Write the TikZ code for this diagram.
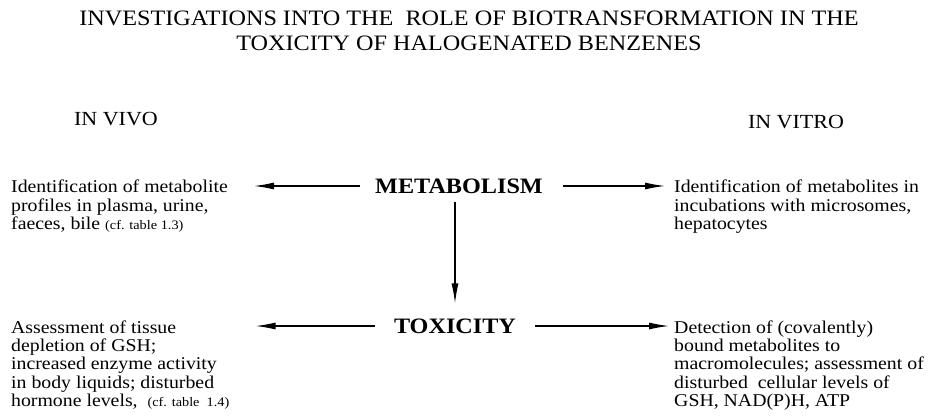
\documentclass[tikz,border=0pt]{standalone}
\usepackage{fontspec}
\setmainfont[FakeStretch=1.1]{Liberation Serif}
\usepackage{tikz}
\usetikzlibrary{arrows.meta, positioning, calc}
\newcommand{\cfsmall}{\fontsize{13}{13}\selectfont}
\tikzset{
  ttl/.style={align=center, inner sep=0pt, font=\rmfamily\fontsize{22}{25}\selectfont},
  hdr/.style={inner sep=0pt, font=\fontsize{20}{22}\selectfont},
  key/.style={inner sep=0pt, font=\fontsize{22}{24}\selectfont\bfseries},
  txt/.style={anchor=north west, align=left, inner sep=0pt,
              font=\fontsize{18}{18.3}\selectfont},
  arr/.style={-{Latex[length=20pt,width=7pt]}, line width=1.2pt}
}

\begin{document}
\begin{tikzpicture}[x=1pt,y=-1pt]
  \useasboundingbox (0,0) rectangle (938,418);
  \node[ttl] (title) at (469,31)
    {INVESTIGATIONS INTO THE\ \ ROLE OF BIOTRANSFORMATION IN THE\\
     TOXICITY OF HALOGENATED BENZENES};
  \node[hdr] (vivo)  at (116,119) {IN VIVO};
  \node[hdr] (vitro) at (796,122) {IN VITRO};
  % centre column
  \node[key] (met) at (459,186) {METABOLISM};
  \node[key] (tox) at (455,326) {TOXICITY};
  % side texts
  \node[txt] (vivoM) at (11,180)
    {Identification of metabolite\\profiles in plasma, urine,\\
     faeces, bile {\cfsmall(cf. table 1.3)}};
  \node[txt] (vitroM) at (674,180)
    {Identification of metabolites in\\incubations with microsomes,\\hepatocytes};
  \node[txt] (vivoT) at (11,320.5)
    {Assessment of tissue\\depletion of GSH;\\increased enzyme activity\\
     in body liquids; disturbed\\hormone levels,\ \ {\cfsmall(cf. table\ \ 1.4)}};
  \node[txt] (vitroT) at (674,320.5)
    {Detection of (covalently)\\bound metabolites to\\
     macromolecules; assessment of\\disturbed\ \ cellular levels of\\
     GSH, NAD(P)H, ATP};
  % arrows
  \draw[arr, shorten <=15pt, shorten >=26pt] (met.west) -- (met.west -| vivoM.east);
  \draw[arr, shorten <=20pt, shorten >=9pt]  (met.east) -- (met.east -| vitroM.west);
  \draw[arr, shorten <=19pt, shorten >=26pt] (tox.west) -- (tox.west -| vivoT.east);
  \draw[arr, shorten <=19pt, shorten >=5pt]  (tox.east) -- (tox.east -| vitroT.west);
  \draw[arr, shorten <=8pt, shorten >=15pt]  (met.south -| tox.north) -- (tox.north);
\end{tikzpicture}
\end{document}
